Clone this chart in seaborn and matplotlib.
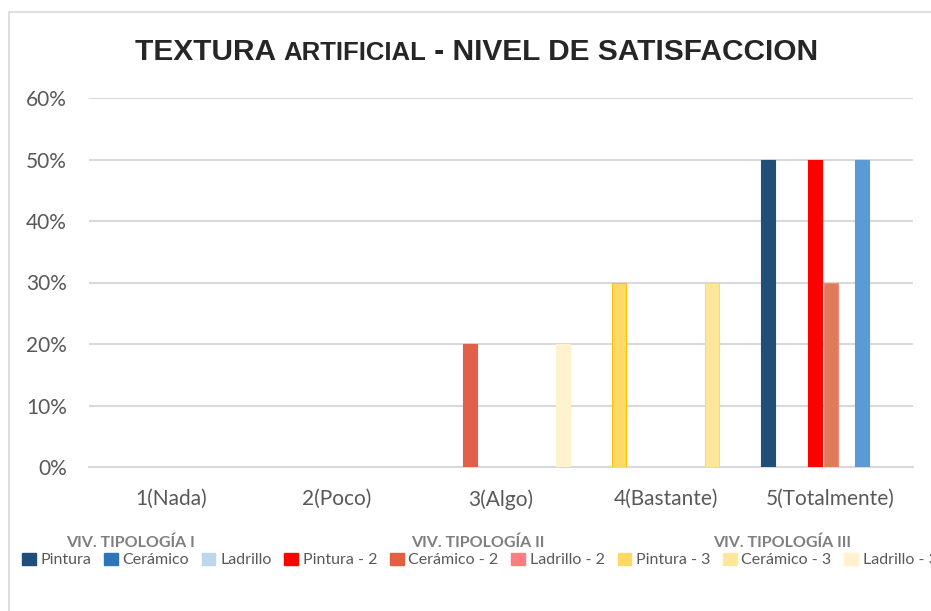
import matplotlib
matplotlib.use("Agg")
import matplotlib.pyplot as plt
import seaborn as sns
import pandas as pd
from matplotlib.patches import Patch, Rectangle
from matplotlib.ticker import PercentFormatter

categories = ["1(Nada)", "2(Poco)", "3(Algo)", "4(Bastante)", "5(Totalmente)"]
series = ["Pintura", "Cerámico", "Ladrillo",
          "Pintura - 2", "Cerámico - 2", "Ladrillo - 2",
          "Pintura - 3", "Cerámico - 3", "Ladrillo - 3"]
groups = ["VIV. TIPOLOGÍA I", "VIV. TIPOLOGÍA II", "VIV. TIPOLOGÍA III"]

# share per category, one list per series
pintura = [0, 0, 0, 0, 0.50]
ceramico = [0, 0, 0, 0.30, 0]
ladrillo = [0, 0, 0.20, 0, 0]
pintura_2 = [0, 0, 0, 0, 0.50]
ceramico_2 = [0, 0, 0, 0, 0.30]
ladrillo_2 = [0, 0, 0, 0, 0]
pintura_3 = [0, 0, 0, 0, 0.50]
ceramico_3 = [0, 0, 0, 0.30, 0]
ladrillo_3 = [0, 0, 0.20, 0, 0]

values = [pintura, ceramico, ladrillo, pintura_2, ceramico_2, ladrillo_2,
          pintura_3, ceramico_3, ladrillo_3]

legend_colors = ["#1F4E79", "#2E75B6", "#BDD7EE", "#FF0000", "#E0603F",
                 "#FF7C80", "#FFD966", "#FFE699", "#FFF2CC"]

# the original chart recolours some single bars: (category, series) -> (face, edge)
bar_colors = {
    (2, 2): ("#E0604A", "#E0604A"),
    (2, 8): ("#FFF2CC", "#FFF2CC"),
    (3, 1): ("#FFD966", "#FFC000"),
    (3, 7): ("#FFE699", "#FFD966"),
    (4, 0): ("#1F4E79", "#1F4E79"),
    (4, 3): ("#FF0000", "#FF0000"),
    (4, 4): ("#E07B5A", "#F08A7A"),
    (4, 6): ("#5B9BD5", "#5B9BD5"),
}

df = pd.DataFrame([
    {"nivel": c, "serie": s, "valor": values[j][i]}
    for j, s in enumerate(series) for i, c in enumerate(categories)
])

sns.set_style("white")
plt.rcParams["font.family"] = ["Lato", "DejaVu Sans"]

fig = plt.figure(figsize=(9.31, 6.11), dpi=100)
ax = fig.add_axes([89 / 931, 1 - 467 / 611, (913 - 89) / 931, (467 - 98) / 611])

sns.barplot(data=df, x="nivel", y="valor", hue="serie", order=categories,
            hue_order=series, palette=legend_colors, width=0.85, gap=0.1,
            legend=False, ax=ax, zorder=3)

for j, cont in enumerate(ax.containers):
    for bar in cont:
        i = int(round(bar.get_x() + bar.get_width() / 2))
        face, edge = bar_colors.get((i, j), (legend_colors[j], legend_colors[j]))
        bar.set_facecolor(face)
        bar.set_edgecolor(edge)
        bar.set_linewidth(0.8 if bar.get_height() > 0 else 0)

ax.set_ylim(0, 0.6)
ax.set_xlim(-0.5, 4.5)
ax.set_yticks([0, 0.1, 0.2, 0.3, 0.4, 0.5, 0.6])
ax.yaxis.set_major_formatter(PercentFormatter(1.0, decimals=0))
ax.grid(axis="y", color="#D9D9D9", linewidth=1.5, zorder=0)
ax.set_axisbelow(True)
for side in ["top", "right", "left"]:
    ax.spines[side].set_visible(False)
ax.spines["bottom"].set_color("#D9D9D9")
ax.spines["bottom"].set_linewidth(1.5)
ax.tick_params(axis="both", length=0, labelsize=15, labelcolor="#595959")
ax.tick_params(axis="y", pad=16)
ax.tick_params(axis="x", pad=16)
ax.set_xlabel("")
ax.set_ylabel("")

# title with the smaller middle word, all on one baseline
base_y = 1 - 60 / 611
title_font = dict(fontweight="bold", family="Liberation Sans", va="baseline", ha="left")
t1 = fig.text(135 / 931, base_y, "TEXTURA ", fontsize=21.5, **title_font)
fig.canvas.draw()
x2 = fig.transFigure.inverted().transform((t1.get_window_extent().x1, 0))[0]
t2 = fig.text(x2, base_y, "ARTIFICIAL", fontsize=18.5, **title_font)
fig.canvas.draw()
x3 = fig.transFigure.inverted().transform((t2.get_window_extent().x1, 0))[0]
fig.text(x3, base_y, " - NIVEL DE SATISFACCION", fontsize=21.5, **title_font)

# legend with group headings
handles = [Patch(facecolor=c, edgecolor=c) for c in legend_colors]
fig.legend(handles, series, loc="center left", bbox_to_anchor=(22 / 931, 1 - 560 / 611),
           ncol=9, frameon=False, fontsize=11.5, labelcolor="#595959",
           handlelength=0.85, handleheight=0.85, handletextpad=0.3,
           columnspacing=0.8, borderpad=0, borderaxespad=0)
for g, x in zip(groups, [66, 411, 713]):
    fig.text(x / 931, 1 - 543 / 611, g, fontsize=11.5, fontweight="bold",
             color="#7F7F7F", va="center", ha="left")

fig.patches.append(Rectangle((8.5 / 931, -0.1), 1.2, 1 - 11.5 / 611 + 0.1,
                             transform=fig.transFigure, fill=False,
                             edgecolor="#D9D9D9", linewidth=1.2))

fig.savefig("out.png", dpi=100)
